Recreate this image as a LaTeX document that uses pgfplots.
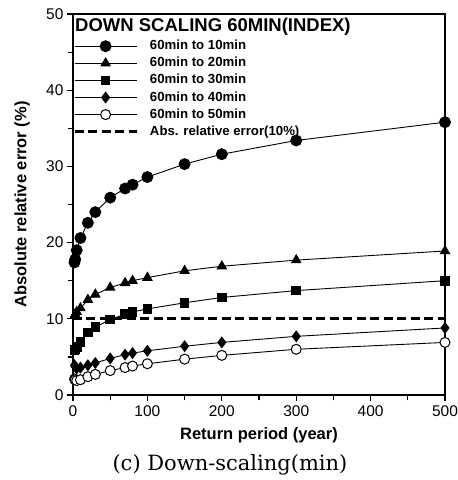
\documentclass[border=0pt]{standalone}
\usepackage{pgfplots}
\pgfplotsset{compat=1.18}
\usepackage{fontspec}
\setmainfont{Liberation Sans}
\newfontfamily\capfont{DejaVu Serif}
\begin{document}
\begin{tikzpicture}[x=1pt,y=1pt]
\begin{axis}[
  at={(73pt,85pt)}, anchor=south west,
  scale only axis, width=372pt, height=381pt,
  xmin=0, xmax=500, ymin=0, ymax=50,
  xtick={0,100,...,500}, ytick={0,10,...,50},
  minor x tick num=1, minor y tick num=1,
  xtick pos=bottom, ytick pos=left, tick align=outside,
  major tick length=6pt, minor tick length=5pt,
  every tick/.style={black, line width=1.2pt},
  axis line style={line width=1.3pt},
  tick label style={font=\fontsize{15.5}{18}\selectfont},
  /pgf/number format/assume math mode=true,
  xticklabel style={yshift=-1pt},
  xlabel={\textbf{Return period (year)}},
  ylabel={\textbf{Absolute relative error (\%)}},
  label style={font=\fontsize{16.5}{20}\selectfont},
  xlabel style={at={(axis description cs:0.5,-0.105)}, anchor=center},
  ylabel style={at={(axis description cs:-0.137,0.5)}, anchor=center},
  legend style={at={(axis description cs:0,1)}, anchor=north west, yshift=-26pt,
    draw=none, fill=none, inner sep=0pt, row sep=5.1pt,
    font=\bfseries\fontsize{13.2}{15}\selectfont,
    nodes={inner sep=0pt, text height=9.5pt, text depth=2.5pt, anchor=west}},
  legend cell align=left,
  legend image code/.code={%
    \draw[mark repeat=2, mark phase=2] plot coordinates {(0pt,0pt) (31pt,0pt) (62pt,0pt)};
    \path (74pt,0pt);},
]
\addplot[black, line width=0.9pt, mark=*, mark size=5.5pt, mark options={solid, fill=black}] coordinates {
(2,17.4) (3,17.8) (5,19.0) (10,20.6) (20,22.6) (30,24.0) (50,25.9) (70,27.1) (80,27.6) (100,28.6) (150,30.3) (200,31.6) (300,33.4) (500,35.8)};
\addlegendentry{60min to 10min}
\addplot[black, line width=0.9pt, mark=triangle*, mark size=5.3pt, mark options={solid, fill=black}] coordinates {
(2,10.4) (3,10.6) (5,10.9) (10,11.4) (20,12.5) (30,13.2) (50,14.1) (70,14.7) (80,15.0) (100,15.4) (150,16.3) (200,16.9) (300,17.7) (500,18.9)};
\addlegendentry{60min to 20min}
\addplot[black, line width=0.9pt, mark=square*, mark size=4.3pt, mark options={solid, fill=black}] coordinates {
(2,5.9) (3,6.0) (5,6.3) (10,7.0) (20,8.2) (30,8.9) (50,9.9) (70,10.6) (80,10.9) (100,11.3) (150,12.1) (200,12.8) (300,13.7) (500,15.0)};
\addlegendentry{60min to 30min}
\addplot[black, line width=0.9pt, mark=diamond*, mark size=5.3pt, mark options={solid, fill=black}] coordinates {
(2,3.9) (3,3.7) (5,3.5) (10,3.6) (20,3.9) (30,4.2) (50,4.8) (70,5.3) (80,5.5) (100,5.8) (150,6.4) (200,6.9) (300,7.7) (500,8.8)};
\addlegendentry{60min to 40min}
\addplot[black, line width=0.9pt, mark=*, mark size=5pt, mark options={solid, fill=white, draw=black, line width=1pt}] coordinates {
(2,2.1) (3,2.0) (5,1.9) (10,2.0) (20,2.4) (30,2.7) (50,3.2) (70,3.6) (80,3.8) (100,4.1) (150,4.7) (200,5.2) (300,6.0) (500,6.9)};
\addlegendentry{60min to 50min}
\addplot[black, no marks, line width=2.8pt, dash pattern=on 9pt off 4.5pt] coordinates {(0,10) (500,10)};
\addlegendentry{Abs. relative error(10\%)}
\node[anchor=base west, inner sep=0pt, font=\bfseries\fontsize{18.5}{20}\selectfont]
  at ([xshift=2pt,yshift=-17pt]rel axis cs:0,1) {DOWN SCALING 60MIN(INDEX)};
\end{axis}
\node[font=\capfont\fontsize{21}{24}\selectfont] at (230pt,15pt) {(c) Down-scaling(min)};
\pgfresetboundingbox
\useasboundingbox (0,0) rectangle (458pt,480pt);
\end{tikzpicture}
\end{document}
